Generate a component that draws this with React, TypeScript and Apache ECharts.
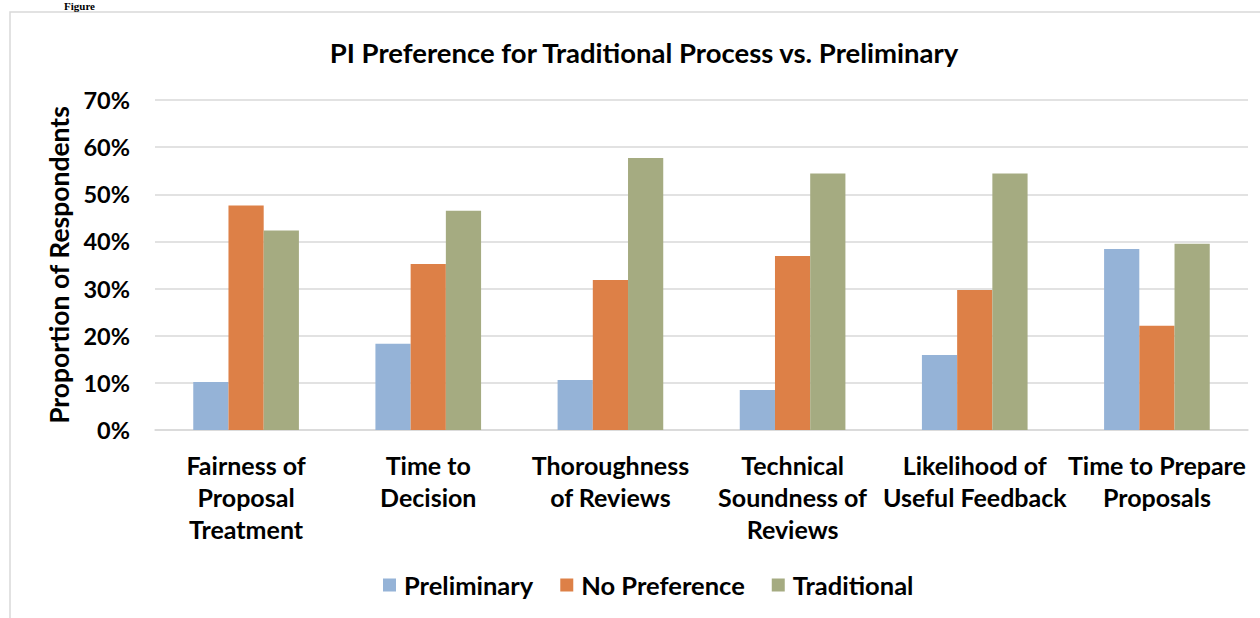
import React, { useEffect, useRef } from "react";
import * as echarts from "echarts";

const categories = [
  "Fairness of\nProposal\nTreatment",
  "Time to\nDecision",
  "Thoroughness\nof Reviews",
  "Technical\nSoundness of\nReviews",
  "Likelihood of\nUseful Feedback",
  "Time to Prepare\nProposals",
];
const preliminary = [10.2, 18.3, 10.6, 8.5, 15.9, 38.4];
const noPreference = [47.6, 35.2, 31.8, 36.9, 29.7, 22.1];
const traditional = [42.3, 46.5, 57.7, 54.4, 54.4, 39.5];
const seriesNames = ["Preliminary", "No Preference", "Traditional"];
const colors = ["#95B3D7", "#DD8047", "#A5AB81"];

const FONT = "Lato";

export default function App() {
  const ref = useRef<HTMLDivElement>(null);
  useEffect(() => {
    if (!ref.current) return;
    const chart = echarts.init(ref.current, undefined, { renderer: "svg" });
    const data = [preliminary, noPreference, traditional];
    chart.setOption({
      animation: false,
      backgroundColor: "#ffffff",
      title: {
        text: "PI Preference for Traditional Process vs. Preliminary",
        left: 639,
        top: 33,
        textAlign: "center",
        textStyle: { fontFamily: FONT, fontWeight: "bold", fontSize: 27.5, color: "#000" },
      },
      graphic: [
        {
          type: "rect",
          shape: { x: 10, y: 12, width: 1300, height: 700 },
          style: { fill: "none", stroke: "#D9D9D9", lineWidth: 1.5 },
          silent: true,
        },
        {
          type: "text",
          x: 64,
          y: 0,
          style: { text: "Figure", font: "bold 11px 'Liberation Serif'", fill: "#000" },
          silent: true,
        },
      ],
      legend: {
        bottom: 15,
        left: 378,
        itemWidth: 13,
        itemHeight: 13,
        itemGap: 27,
        icon: "rect",
        textStyle: {
          fontFamily: FONT,
          fontWeight: "bold",
          fontSize: 25.5,
          color: "#000",
          padding: [0, 0, 0, 3],
        },
        data: seriesNames,
      },
      grid: { left: 155, right: 12, top: 100, bottom: 188 },
      xAxis: {
        type: "category",
        data: categories,
        axisLine: { lineStyle: { color: "#D9D9D9", width: 1.5 } },
        axisTick: { show: false },
        axisLabel: {
          interval: 0,
          margin: 19,
          fontFamily: FONT,
          fontWeight: "bold",
          fontSize: 25,
          lineHeight: 32,
          color: "#000",
        },
      },
      yAxis: {
        type: "value",
        min: 0,
        max: 70,
        interval: 10,
        name: "Proportion of Respondents",
        nameLocation: "middle",
        nameGap: 82,
        nameTextStyle: { fontFamily: FONT, fontWeight: "bold", fontSize: 26.5, color: "#000" },
        axisLine: { show: false },
        axisTick: { show: false },
        splitLine: { lineStyle: { color: "#D9D9D9", width: 1.5 } },
        axisLabel: {
          margin: 25,
          formatter: "{value}%",
          fontFamily: FONT,
          fontWeight: "bold",
          fontSize: 23.5,
          color: "#000",
        },
      },
      series: seriesNames.map((name, i) => ({
        name,
        type: "bar",
        data: data[i],
        itemStyle: { color: colors[i] },
        barGap: "0%",
        barCategoryGap: "42%",
      })),
    });
    return () => chart.dispose();
  }, []);
  return (
    <div
      ref={ref}
      style={{ position: "absolute", left: 0, top: 0, width: 1260, height: 618 }}
    />
  );
}
